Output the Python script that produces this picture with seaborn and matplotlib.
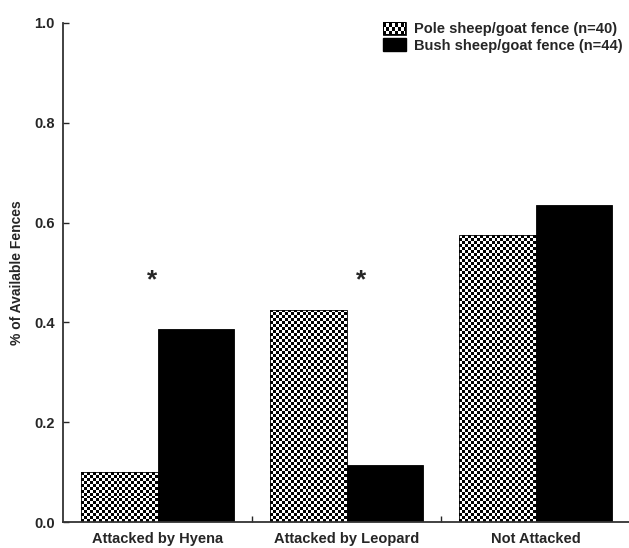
import numpy as np
import pandas as pd
import matplotlib
matplotlib.use("Agg")
import matplotlib.pyplot as plt
import seaborn as sns
from matplotlib.patches import Patch

categories = ["Attacked by Hyena", "Attacked by Leopard", "Not Attacked"]
series_names = ["Pole sheep/goat fence (n=40)", "Bush sheep/goat fence (n=44)"]
pole_values = [0.100, 0.425, 0.575]
bush_values = [0.386, 0.114, 0.636]
y_ticks = [0.0, 0.2, 0.4, 0.6, 0.8, 1.0]
y_label = "% of Available Fences"
sig_marks = [(0, "*"), (1, "*")]

sns.set_style("white")
plt.rcParams["font.family"] = ["Liberation Sans", "DejaVu Sans"]
plt.rcParams["font.weight"] = "bold"

df = pd.DataFrame({
    "category": categories * 2,
    "series": [series_names[0]] * 3 + [series_names[1]] * 3,
    "value": pole_values + bush_values,
})

DPI = 100
fig = plt.figure(figsize=(6.29, 5.48), dpi=DPI)
ax = fig.add_axes([63 / 629, 26 / 548, 567 / 629, 499 / 548])

sns.barplot(data=df, x="category", y="value", hue="series", order=categories,
            hue_order=series_names, palette=["white", "black"], width=0.81,
            edgecolor="black", linewidth=0.6, errorbar=None, ax=ax, legend=False)

ax.set_xlim(-0.5, 2.5)
ax.set_ylim(0, 1.0)

# checker pattern for pole bars
px_per_x = 567 / 3.0
px_per_y = 499 / 1.0
sq = 3.0
pole_patches = ax.patches[:3]
for p in pole_patches:
    x0, w, h = p.get_x(), p.get_width(), p.get_height()
    nx = max(1, int(round(w * px_per_x / sq)))
    ny = max(1, int(round(h * px_per_y / sq)))
    arr = (np.add.outer(np.arange(ny), np.arange(nx)) % 2).astype(float)
    im = ax.imshow(arr, extent=[x0, x0 + w, 0, h], cmap="gray", vmin=0, vmax=1,
                   interpolation="nearest", aspect="auto", origin="lower", zorder=p.get_zorder() + 0.1)
    im.set_clip_path(p)
    p.set_zorder(p.get_zorder() + 0.2)
    p.set_facecolor("none")
ax.set_xlim(-0.5, 2.5)
ax.set_ylim(0, 1.0)

for xi, s in sig_marks:
    off = -0.03 if xi == 0 else 0.077
    ax.text(xi + off, 0.485, s, ha="center", va="center", fontsize=19, fontweight="bold")

sns.despine(ax=ax)
for sp in ["left", "bottom"]:
    ax.spines[sp].set_linewidth(1.3)
    ax.spines[sp].set_color("#333333")

ax.set_yticks(y_ticks)
ax.set_yticklabels([f"{t:.1f}" for t in y_ticks], fontsize=10.5, fontweight="bold")
ax.tick_params(axis="y", direction="in", length=4, width=1, pad=6, left=True)
ax.set_xticks([0, 1, 2])
ax.set_xticklabels(categories, fontsize=10.5, fontweight="bold")
ax.tick_params(axis="x", which="major", length=0, pad=7)
ax.set_xticks([0.5, 1.5], minor=True)
ax.tick_params(axis="x", which="minor", direction="in", length=4, width=1, bottom=True)
ax.set_xlabel("")
ax.set_ylabel(y_label, fontsize=10, fontweight="bold", labelpad=7)

handles = [Patch(facecolor="white", edgecolor="black", linewidth=0.6),
           Patch(facecolor="black", edgecolor="black")]
leg = fig.legend(handles, series_names, loc="upper right", bbox_to_anchor=(623 / 629, 1 - 22 / 548),
                 frameon=False, prop={"size": 10.5, "weight": "bold"}, handlelength=1.6,
                 handleheight=0.95, handletextpad=0.55, labelspacing=0.15, borderaxespad=0, borderpad=0)

fig.canvas.draw()
renderer = fig.canvas.get_renderer()
hp = leg.legend_handles[0]
bb = hp.get_window_extent(renderer)
lw, lh = int(round(bb.width)), int(round(bb.height))
nx, ny = int(round(lw / sq)), int(round(lh / sq))
small = (np.add.outer(np.arange(ny), np.arange(nx)) % 2).astype(float)
big = np.kron(small, np.ones((int(np.ceil(lh / ny)), int(np.ceil(lw / nx)))))[:lh, :lw]
rgb = np.stack([big] * 3, axis=-1)
rgb[0, :, :] = 0; rgb[-1, :, :] = 0; rgb[:, 0, :] = 0; rgb[:, -1, :] = 0
fig.figimage(rgb, xo=int(round(bb.x0)), yo=int(round(bb.y0)), origin="lower", zorder=10)

fig.savefig("out.png", dpi=DPI)
